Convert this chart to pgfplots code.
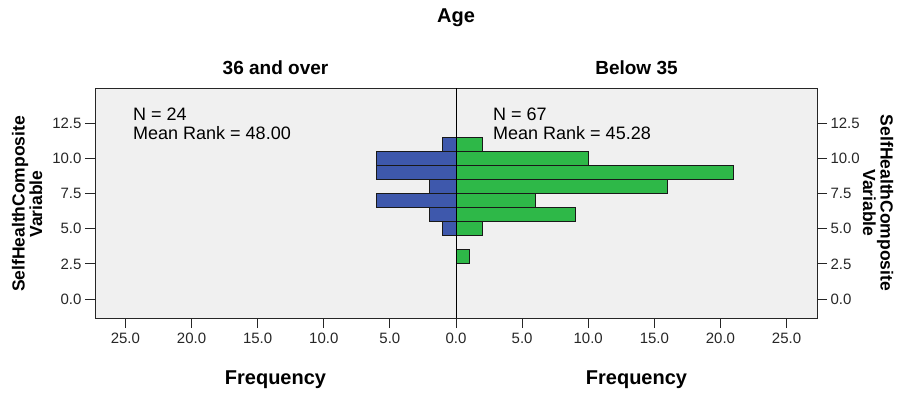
\documentclass[border=0pt]{standalone}
\usepackage{pgfplots}
\pgfplotsset{compat=1.18}
\usepackage{fontspec}
\setmainfont{Liberation Sans}
\definecolor{spssblue}{RGB}{62,88,172}
\definecolor{spssgreen}{RGB}{46,184,72}
\definecolor{bgc}{RGB}{240,240,240}
\begin{document}
\begin{tikzpicture}[x=1pt,y=1pt]
\useasboundingbox (0,0) rectangle (902,396);
\pgfplotsset{
  pyr/.style={
    scale only axis, width=361pt, height=230pt,
    xmin=0, xmax=27.3, ymin=-1.35, ymax=15,
    axis background/.style={fill=bgc},
    axis line style={black!85, line width=0.9pt},
    xbar, bar width=1,
    ytick={0,2.5,5,7.5,10,12.5},
    tick align=outside,
    major tick length=10pt,
    tick style={black!85, line width=0.9pt},
    xtick pos=bottom,
    /pgf/number format/fixed,
    /pgf/number format/fixed zerofill,
    /pgf/number format/precision=1,
    /pgf/number format/assume math mode=true,
    tick label style={font=\fontsize{15}{18}\selectfont, text=black!85},
    xticklabel style={yshift=-1pt},
  }
}
\begin{axis}[pyr, at={(95pt,78pt)}, anchor=south west, x dir=reverse,
  xtick={5,10,15,20,25}, ytick pos=left]
\addplot[fill=spssblue, draw=black!90, line width=0.9pt] coordinates {
(1,11) (6,10) (6,9) (2,8) (6,7) (2,6) (1,5)};
\end{axis}
\begin{axis}[pyr, at={(456pt,78pt)}, anchor=south west,
  xtick={0,5,10,15,20,25}, ytick pos=right, yticklabel pos=right]
\addplot[fill=spssgreen, draw=black!90, line width=0.9pt] coordinates {
(2,11) (10,10) (21,9) (16,8) (6,7) (9,6) (2,5) (1,3)};
\end{axis}
\draw[black, line width=0.9pt] (456,78) -- (456,308);
% titles
\node[font=\fontsize{20}{24}\selectfont\bfseries] at (456,378) {Age};
\node[font=\fontsize{19}{23}\selectfont\bfseries] at (275.5,328) {36 and over};
\node[font=\fontsize{19}{23}\selectfont\bfseries] at (636.5,328) {Below 35};
\node[font=\fontsize{20}{24}\selectfont\bfseries] at (275.5,16) {Frequency};
\node[font=\fontsize{20}{24}\selectfont\bfseries] at (636.5,16) {Frequency};
\node[font=\fontsize{17.5}{17.5}\selectfont\bfseries, rotate=90, align=center] at (27,192) {SelfHealthComposite\\Variable};
\node[font=\fontsize{17.5}{17.5}\selectfont\bfseries, rotate=-90, align=center] at (878,193) {SelfHealthComposite\\Variable};
% annotations
\node[font=\fontsize{18}{19}\selectfont, anchor=base west, inner sep=0pt] at (133,275) {N = 24};
\node[font=\fontsize{18}{19}\selectfont, anchor=base west, inner sep=0pt] at (133,256) {Mean Rank = 48.00};
\node[font=\fontsize{18}{19}\selectfont, anchor=base west, inner sep=0pt] at (493,275) {N = 67};
\node[font=\fontsize{18}{19}\selectfont, anchor=base west, inner sep=0pt] at (493,256) {Mean Rank = 45.28};
\end{tikzpicture}
\end{document}
